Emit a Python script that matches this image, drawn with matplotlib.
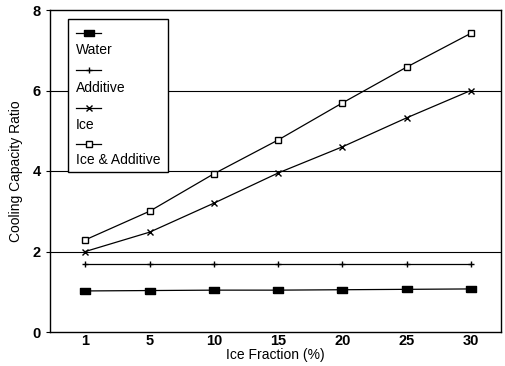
import numpy as np
import matplotlib.pyplot as plt
from matplotlib.patches import Rectangle

plt.rcParams['font.family'] = ['Liberation Sans', 'DejaVu Sans']

# Ice fraction categories (equally spaced on the axis)
fractions = ['1', '5', '10', '15', '20', '25', '30']
water = [1.02, 1.03, 1.04, 1.04, 1.05, 1.06, 1.07]
additive = [1.70, 1.70, 1.70, 1.70, 1.70, 1.70, 1.70]
ice = [2.00, 2.48, 3.20, 3.95, 4.60, 5.32, 6.00]
ice_additive = [2.29, 3.00, 3.93, 4.77, 5.69, 6.58, 7.42]

labels = ['Water', 'Additive', 'Ice', 'Ice & Additive']

fig = plt.figure(figsize=(5.05, 3.66), dpi=100)
ax = fig.add_axes([50/505, 34/366, 451/505, 322/366])

x = np.arange(len(fractions))

# wide filled rectangle for water
rect_marker = [(-1, -0.6), (1, -0.6), (1, 0.6), (-1, 0.6), (-1, -0.6)]
styles = [
    dict(marker=rect_marker, ms=6.5, mfc='black', mec='black'),
    dict(marker='+', ms=5, mew=1.0),
    dict(marker='x', ms=4.5, mew=1.0),
    dict(marker='s', ms=5, mfc='white', mec='black', mew=1.0),
]
series = [water, additive, ice, ice_additive]

for s, st in zip(series, styles):
    ax.plot(x, s, color='black', lw=0.9, zorder=3, **st)

# horizontal reference lines
for g in [2, 4, 6]:
    ax.axhline(g, color='black', lw=0.8, zorder=1)

ax.set_xlim(-0.55, 6.47)
ax.set_ylim(0, 8)
ax.set_xticks(x)
ax.set_xticklabels(fractions)
ax.set_yticks([0, 2, 4, 6, 8])
ax.tick_params(axis='both', labelsize=10.5, width=0.8, length=3, direction='out')
ax.tick_params(axis='x', length=0, pad=1.5)
for lab in ax.get_xticklabels() + ax.get_yticklabels():
    lab.set_fontweight('bold')
for sp in ax.spines.values():
    sp.set_linewidth(1.0)

ax.set_xlabel('Ice Fraction (%)', fontsize=10, labelpad=0)
ax.set_ylabel('Cooling Capacity Ratio', fontsize=10, labelpad=7)

# legend box: sample line above each label
bx0, bx1 = 0.040, 0.262
by0, by1 = 0.497, 0.972
ax.add_patch(Rectangle((bx0, by0), bx1 - bx0, by1 - by0, transform=ax.transAxes,
                       facecolor='white', edgecolor='black', lw=1.0, zorder=5))
line_y = [0.930, 0.813, 0.697, 0.585]
text_y = [0.877, 0.758, 0.643, 0.535]
for st, ly, ty, lab in zip(styles, line_y, text_y, labels):
    ax.plot([0.057, 0.112], [ly, ly], color='black', lw=0.9,
            transform=ax.transAxes, zorder=6, clip_on=False)
    ax.plot([0.086], [ly], color='black', transform=ax.transAxes, zorder=7,
            clip_on=False, **st)
    ax.text(0.057, ty, lab, transform=ax.transAxes, fontsize=10,
            va='center', ha='left', zorder=7)

fig.savefig('out.png', dpi=100)
